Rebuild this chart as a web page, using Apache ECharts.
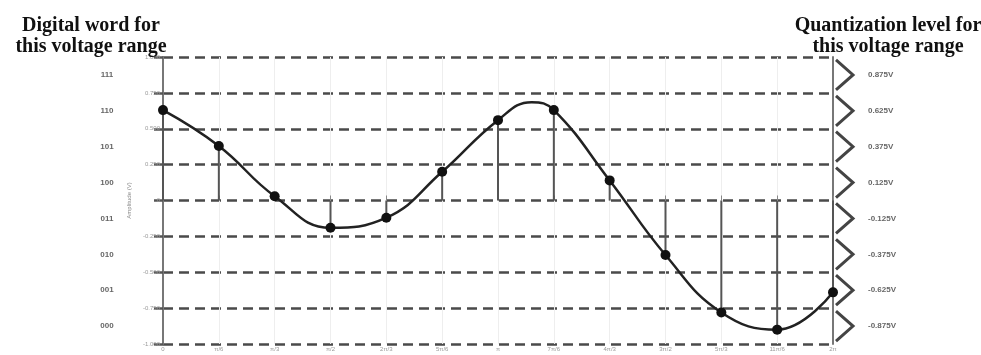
<!DOCTYPE html>
<html>
<head>
<meta charset="utf-8">
<script src="https://cdn.jsdelivr.net/npm/echarts@6/dist/echarts.min.js"></script>
<style>
  html, body { margin: 0; padding: 0; background: #fff; }
  #chart { width: 981px; height: 355px; }
</style>
</head>
<body>
<div id="chart"></div>
<script>
// sample index (steps of pi/6) and sampled amplitude
var sampleX = [0, 1, 2, 3, 4, 5, 6, 7, 8, 9, 10, 11, 12];
var sampleY = [0.63, 0.38, 0.03, -0.19, -0.12, 0.2, 0.56, 0.63, 0.14, -0.38, -0.78, -0.9, -0.64];
// extra point on the analog curve (the crest between samples)
var crestX = 6.6;
var crestY = 0.685;

var xTicks = ['0', 'π/6', 'π/3', 'π/2', '2π/3', '5π/6', 'π', '7π/6', '4π/3', '3π/2', '5π/3', '11π/6', '2π'];
var yTicks = ['1.000', '0.750', '0.500', '0.250', '0', '-0.250', '-0.500', '-0.750', '-1.000'];

// quantization bands, top to bottom
var codes = ['111', '110', '101', '100', '011', '010', '001', '000'];
var levels = [0.875, 0.625, 0.375, 0.125, -0.125, -0.375, -0.625, -0.875];
var levelLabels = ['0.875V', '0.625V', '0.375V', '0.125V', '-0.125V', '-0.375V', '-0.625V', '-0.875V'];

var chart = echarts.init(document.getElementById('chart'));

var curveData = [];
for (var i = 0; i < sampleX.length; i++) {
  curveData.push({ value: [sampleX[i], sampleY[i]] });
  if (sampleX[i] === 6) {
    curveData.push({ value: [crestX, crestY], symbol: 'none' });
  }
}
var stemData = sampleX.map(function (x, i) { return [x, sampleY[i]]; });
var bandData = levels.map(function (v, i) { return [12, v, i]; });

var option = {
  animation: false,
  title: [
    {
      text: 'Digital word for\nthis voltage range',
      left: 86, top: 10, textAlign: 'center',
      textStyle: { fontFamily: 'Liberation Serif', fontWeight: 'bold', fontSize: 20, lineHeight: 21, color: '#111' }
    },
    {
      text: 'Quantization level for\nthis voltage range',
      left: 883, top: 10, textAlign: 'center',
      textStyle: { fontFamily: 'Liberation Serif', fontWeight: 'bold', fontSize: 20, lineHeight: 21, color: '#111' }
    }
  ],
  grid: { left: 163, right: 148, top: 57, bottom: 11, containLabel: false },
  xAxis: {
    type: 'value', min: 0, max: 12, interval: 1,
    axisLine: { show: false },
    axisTick: { show: true, inside: true, length: 5, lineStyle: { color: '#888', width: 1 } },
    axisLabel: {
      fontSize: 6, color: '#999', margin: 2,
      formatter: function (v) { return xTicks[v] || ''; }
    },
    splitLine: { show: true, lineStyle: { color: '#eeeeee', width: 1 } }
  },
  yAxis: [
    {
      type: 'value', min: -1, max: 1, interval: 0.25,
      name: 'Amplitude (V)', nameLocation: 'middle', nameGap: 22, nameRotate: 90,
      nameTextStyle: { fontSize: 6, color: '#888' },
      axisLine: { show: true, lineStyle: { color: '#777', width: 2 } },
      axisTick: { show: true, length: 12, lineStyle: { color: '#555', width: 2.5, type: [9, 5] } },
      axisLabel: {
        fontSize: 6, color: '#999', margin: 3,
        formatter: function (v) { return yTicks[Math.round((1 - v) / 0.25)]; }
      },
      splitLine: { show: true, lineStyle: { color: '#4a4a4a', width: 2.5, type: [10, 6] } }
    },
    {
      type: 'value', min: -1, max: 1, interval: 0.25, position: 'right',
      axisLine: { show: true, lineStyle: { color: '#777', width: 2 } },
      axisTick: { show: false }, axisLabel: { show: false }, splitLine: { show: false }
    }
  ],
  series: [
    {
      type: 'bar', data: stemData, barWidth: 2,
      itemStyle: { color: '#555' }, z: 2
    },
    {
      type: 'line', data: curveData, smooth: 0.45,
      symbol: 'circle', symbolSize: 10,
      lineStyle: { color: '#222', width: 2.5 },
      itemStyle: { color: '#111' }, z: 3
    },
    {
      type: 'custom', data: bandData, clip: false, silent: true,
      renderItem: function (params, api) {
        var p = api.coord([api.value(0), api.value(1)]);
        var idx = api.value(2);
        var half = 15;
        var x0 = p[0] + 3;
        return {
          type: 'group',
          children: [
            {
              type: 'polyline',
              shape: { points: [[x0, p[1] - half], [x0 + 17, p[1]], [x0, p[1] + half]] },
              style: { stroke: '#444', lineWidth: 3, fill: null }
            },
            {
              type: 'text',
              style: {
                x: p[0] + 35, y: p[1], text: levelLabels[idx],
                fill: '#666', fontSize: 8, fontWeight: 'bold', verticalAlign: 'middle', align: 'left'
              }
            },
            {
              type: 'text',
              style: {
                x: api.coord([0, api.value(1)])[0] - 56, y: p[1], text: codes[idx],
                fill: '#666', fontSize: 8, fontWeight: 'bold', verticalAlign: 'middle', align: 'center'
              }
            }
          ]
        };
      }
    }
  ]
};

chart.setOption(option);
</script>
</body>
</html>
